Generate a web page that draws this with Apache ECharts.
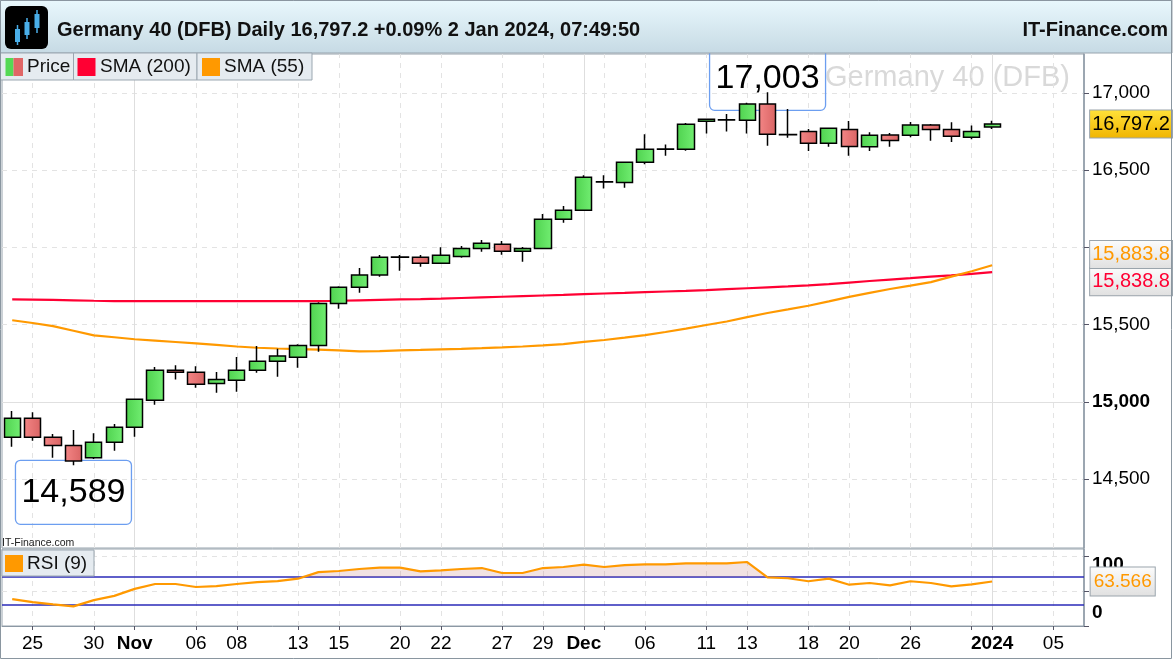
<!DOCTYPE html>
<html><head><meta charset="utf-8">
<script src="https://cdn.jsdelivr.net/npm/echarts@6/dist/echarts.min.js"></script>
<style>html,body{margin:0;padding:0;background:#fff}#c{width:1173px;height:660px}</style>
</head><body><div id="c"></div>
<script>
// ---------- DATA ----------
const dates = ['2023-10-24','2023-10-25','2023-10-26','2023-10-27','2023-10-30','2023-10-31',
'2023-11-01','2023-11-02','2023-11-03','2023-11-06','2023-11-07','2023-11-08','2023-11-09','2023-11-10','2023-11-13','2023-11-14','2023-11-15','2023-11-16','2023-11-17','2023-11-20','2023-11-21','2023-11-22','2023-11-23','2023-11-24','2023-11-27','2023-11-28','2023-11-29','2023-11-30',
'2023-12-01','2023-12-04','2023-12-05','2023-12-06','2023-12-07','2023-12-08','2023-12-11','2023-12-12','2023-12-13','2023-12-14','2023-12-15','2023-12-18','2023-12-19','2023-12-20','2023-12-21','2023-12-22','2023-12-26','2023-12-27','2023-12-28','2023-12-29',
'2024-01-02','2024-01-03','2024-01-04','2024-01-05','2024-01-08'];
const opens  = [14770,14893,14770,14718,14638,14738,14835,15010,15204,15191,15119,15139,15204,15262,15288,15365,15637,15741,15820,15935,15935,15896,15941,15993,16019,15974,15993,16181,16239,16422,16420,16550,16634,16634,16815,16824,16822,16927,16728,16750,16673,16763,16651,16727,16725,16791,16763,16712,16778];
const closes = [14893,14770,14718,14617,14738,14835,15016,15204,15191,15113,15145,15204,15262,15296,15365,15637,15741,15820,15935,15937,15896,15948,15993,16026,15974,15993,16181,16239,16453,16424,16550,16634,16636,16796,16828,16826,16927,16731,16730,16673,16770,16653,16725,16692,16791,16763,16718,16750,16797.2];
const lows   = [14709,14748,14638,14589,14630,14683,14774,14981,15145,15091,15059,15065,15188,15162,15220,15324,15602,15706,15809,15848,15874,15893,15932,15971,15952,15907,15987,16159,16235,16381,16385,16537,16593,16625,16737,16750,16737,16657,16709,16623,16651,16593,16623,16651,16712,16690,16681,16699,16765];
const highs  = [14940,14932,14791,14817,14796,14856,15020,15225,15236,15231,15193,15290,15361,15344,15372,15645,15748,15866,15950,15950,15950,16000,16008,16047,16040,16002,16215,16267,16466,16467,16555,16731,16666,16804,16830,16862,16936,17003,16895,16765,16776,16817,16744,16740,16811,16798,16809,16789,16819];
const sma200 = [15663,15662,15660,15657,15654,15652,15652,15652,15652,15652,15652,15652,15652,15652,15652,15652,15654,15657,15660,15663,15665,15668,15672,15676,15680,15684,15688,15692,15697,15701,15705,15710,15714,15718,15723,15729,15735,15741,15747,15754,15762,15772,15782,15791,15800,15810,15818,15828,15838.8];
const sma55  = [15528,15510,15490,15460,15430,15418,15405,15396,15387,15378,15368,15358,15350,15345,15341,15338,15333,15326,15328,15333,15336,15340,15343,15347,15352,15358,15365,15374,15388,15400,15415,15432,15452,15474,15497,15520,15548,15575,15598,15622,15650,15679,15705,15730,15752,15775,15810,15845,15883.8];
const rsi9   = [38.5,34.2,31,28,37,43,53,60,60,55.7,57,60,62.8,64,67.6,77,78.6,81.4,83.3,83.3,78,79.6,81.4,82.8,75.7,75.7,82.8,84.3,87.6,84.3,87,88,88,89.5,89.5,89.5,91.4,69.6,68.2,63.9,67.7,59,61.4,58,63.9,61.4,56.7,59.5,63.566];
const xTickDates  = ['2023-10-25','2023-10-30','2023-11-01','2023-11-06','2023-11-08','2023-11-13','2023-11-15','2023-11-20','2023-11-22','2023-11-27','2023-11-29','2023-12-01','2023-12-06','2023-12-11','2023-12-13','2023-12-18','2023-12-20','2023-12-26','2024-01-02','2024-01-05'];
const xTickLabels = ['25','30','Nov','06','08','13','15','20','22','27','29','Dec','06','11','13','18','20','26','2024','05'];
const monthStarts = ['2023-11-01','2023-12-01','2024-01-02'];
const xGridDates  = ['2023-10-25','2023-10-30','2023-11-06','2023-11-08','2023-11-13','2023-11-15','2023-11-20','2023-11-22','2023-11-27','2023-11-29','2023-12-04','2023-12-06','2023-12-11','2023-12-13','2023-12-18','2023-12-20','2023-12-26','2023-12-29','2024-01-05'];
const yTicks = [14500,15000,15500,16000,16500,17000];
const ySolid = [15000];
const rsiTicks = [0,50,100];
const rsiLevels = [70,30];
const highNote = {date:'2023-12-14', value:17003};
const lowNote  = {date:'2023-10-27', value:14589};

// ---------- HELPERS ----------
const FF = '"Liberation Sans", Arial, sans-serif';
function fmt(v, d){ const s = Number(v).toFixed(d); const p = s.split('.'); const i = p[0].replace(/\B(?=(\d{3})+(?!\d))/g, ','); return p[1] ? i + '.' + p[1] : i; }
const G = echarts.graphic.LinearGradient;
const greenGrad = new G(0,0,1,0,[{offset:0,color:'#4fd24f'},{offset:1,color:'#72ee72'}]);
const redGrad   = new G(0,0,1,0,[{offset:0,color:'#f48686'},{offset:1,color:'#d96464'}]);
const grayBox   = () => new G(0,0,0,1,[{offset:0,color:'#fcfcfc'},{offset:1,color:'#e0e0e0'}]);
const gridSet = new Set(xGridDates.concat(monthStarts));
const last = closes.length - 1;
const ohlc = opens.map((o,i)=>[o, closes[i], lows[i], highs[i]]);

const vLines = xGridDates.map(d => ({xAxis:d, lineStyle:{type:[5,5], color:'#e3e3e3', width:1}}))
  .concat(monthStarts.map(d => ({xAxis:d, lineStyle:{type:'solid', color:'#dedede', width:1}})));

const valueBox = (coordVal, text, color, bg, dy, dist) => ({
  coord:[dates[last], coordVal], value:coordVal,
  label:{show:true, position:'right', distance:dist, offset:[0,dy], formatter:text,
    color:color, fontSize:20, fontFamily:FF, backgroundColor:bg, borderColor:'#9aa4ac', borderWidth:1, padding:[4,2,3,2]}
});
const noteLabel = (dy) => ({show:true, position:'inside', offset:[0,dy], formatter:p=>fmt(p.value,0),
  color:'#000', fontSize:34, fontFamily:FF, borderColor:'#6c9ef0', borderWidth:1.3, borderRadius:5, padding:[15,6]});

// ---------- CHART ----------
const chart = echarts.init(document.getElementById('c'), null, {renderer:'canvas'});
const option = {
  animation:false,
  textStyle:{fontFamily:FF},
  grid:[
    {left:2, right:89, top:54, bottom:112, show:true, borderColor:'#98a4ae', borderWidth:1, backgroundColor:'#fff'},
    {left:2, right:89, top:549, bottom:34, show:true, borderColor:'#98a4ae', borderWidth:1, backgroundColor:'#fff'}
  ],
  xAxis:[
    {type:'category', data:dates, gridIndex:0, boundaryGap:true, axisLine:{show:false}, axisTick:{show:false}, axisLabel:{show:false}, splitLine:{show:false}},
    {type:'category', data:dates, gridIndex:1, boundaryGap:true,
      axisLine:{show:true, lineStyle:{color:'#8c98a4'}},
      axisTick:{show:true, alignWithLabel:true, length:4, interval:(i,v)=>gridSet.has(v), lineStyle:{color:'#556'}},
      axisLabel:{show:true, interval:(i,v)=>xTickDates.indexOf(v)>=0, margin:8, color:'#000', fontSize:19, fontFamily:FF,
        formatter:v=>{ const t = xTickLabels[xTickDates.indexOf(v)]; return monthStarts.indexOf(v)>=0 ? '{b|'+t+'}' : t; },
        rich:{b:{fontWeight:'bold', fontSize:19, color:'#000', fontFamily:FF}}},
      splitLine:{show:false}}
  ],
  yAxis:[
    {type:'value', gridIndex:0, position:'right', min:14054, max:17251,
      axisLine:{show:true, lineStyle:{color:'#8c98a4', width:1.5}},
      axisTick:{show:true, customValues:yTicks, length:5, lineStyle:{color:'#556'}},
      axisLabel:{show:true, customValues:yTicks, margin:8, color:'#000', fontSize:19, fontFamily:FF,
        formatter:v => ySolid.indexOf(v)>=0 ? '{b|'+fmt(v,0)+'}' : fmt(v,0),
        rich:{b:{fontWeight:'bold', fontSize:19, color:'#000', fontFamily:FF}}},
      splitLine:{show:true, lineStyle:{type:[5,5], color:'#e3e3e3'}}},
    {type:'value', gridIndex:1, position:'right', min:0, max:110,
      axisLine:{show:true, lineStyle:{color:'#8c98a4', width:1.5}},
      axisTick:{show:true, customValues:rsiTicks, length:5, lineStyle:{color:'#556'}},
      axisLabel:{show:true, customValues:rsiTicks, margin:8, color:'#000', fontSize:19, fontFamily:FF,
        formatter:v => v===100 ? '{t|100}' : (v===0 ? '{z|0}' : '{m|'+v+'}'),
        rich:{t:{fontWeight:'bold', fontSize:19, color:'#000', padding:[18,0,0,0]},
              z:{fontWeight:'bold', fontSize:19, color:'#000', padding:[0,0,26,0]},
              m:{fontSize:19, color:'#000'}}},
      splitLine:{show:true, lineStyle:{type:[5,5], color:'#e3e3e3'}}}
  ],
  series:[
    {name:'SMA (200)', type:'line', xAxisIndex:0, yAxisIndex:0, data:sma200, symbol:'none', clip:false,
      lineStyle:{color:'#ff0033', width:2.2}, z:2,
      markLine:{z:1, silent:true, symbol:'none', animation:false, label:{show:false},
        data: vLines.concat(ySolid.map(v => ({yAxis:v, lineStyle:{type:'solid', color:'#e0e0e0', width:1}})))},
      markPoint:{symbol:'circle', symbolSize:1, itemStyle:{color:'rgba(0,0,0,0)'}, silent:true,
        data:[valueBox(sma200[last], fmt(sma200[last],1), '#ff0033', grayBox(), 9.5, 97.5)]}
    },
    {name:'SMA (55)', type:'line', xAxisIndex:0, yAxisIndex:0, data:sma55, symbol:'none', clip:false,
      lineStyle:{color:'#ff9900', width:2.2}, z:2,
      markPoint:{symbol:'circle', symbolSize:1, itemStyle:{color:'rgba(0,0,0,0)'}, silent:true,
        data:[valueBox(sma55[last], fmt(sma55[last],1), '#ff9900', grayBox(), -10.7, 97.5)]}
    },
    {name:'Price', type:'candlestick', xAxisIndex:0, yAxisIndex:0, data:ohlc, barWidth:'82%', clip:false, z:3,
      itemStyle:{color:greenGrad, color0:redGrad, borderColor:'#000', borderColor0:'#000', borderColorDoji:'#000', borderWidth:1.5},
      markPoint:{z:1, symbol:'circle', symbolSize:1, itemStyle:{color:'rgba(0,0,0,0)'}, silent:true,
        data:[
          {coord:[highNote.date, highNote.value], value:highNote.value, label:noteLabel(-14)},
          {coord:[lowNote.date, lowNote.value], value:lowNote.value, label:noteLabel(27)},
          valueBox(closes[last], fmt(closes[last],1), '#000',
            new G(0,0,0,1,[{offset:0,color:'#ffe23a'},{offset:1,color:'#f0b400'}]), 0, 97.5)
        ]}
    },
    {name:'rsiBase', type:'line', xAxisIndex:1, yAxisIndex:1, stack:'ob', data:rsi9.map(()=>rsiLevels[0]),
      symbol:'none', lineStyle:{opacity:0}, silent:true, z:1},
    {name:'rsiOver', type:'line', xAxisIndex:1, yAxisIndex:1, stack:'ob', data:rsi9.map(v=>Math.max(v-rsiLevels[0],0)),
      symbol:'none', lineStyle:{opacity:0}, areaStyle:{color:'rgba(190,120,120,0.30)'}, silent:true, z:1},
    {name:'RSI (9)', type:'line', xAxisIndex:1, yAxisIndex:1, data:rsi9, symbol:'none', clip:false,
      lineStyle:{color:'#ff9900', width:2.2}, z:3,
      markLine:{z:1, silent:true, symbol:'none', animation:false, label:{show:false},
        data: vLines.concat(rsiLevels.map(v => ({yAxis:v, lineStyle:{type:'solid', color:'#2a2ab8', width:1.5}})))},
      markPoint:{symbol:'circle', symbolSize:1, itemStyle:{color:'rgba(0,0,0,0)'}, silent:true,
        data:[{coord:[dates[last], rsi9[last]], value:rsi9[last],
          label:{show:true, position:'right', distance:98, formatter:rsi9[last].toFixed(3), color:'#ff9900', fontSize:19, fontFamily:FF,
            backgroundColor:grayBox(), borderColor:'#9aa4ac', borderWidth:1, padding:[5,3,4,3]}}]}
    }
  ],
  graphic:[
    // header bar
    {type:'rect', z:100, shape:{x:0, y:0, width:1172, height:53},
      style:{fill:new G(0,0,0,1,[{offset:0,color:'#e9f8fd'},{offset:1,color:'#c6dae4'}]), stroke:'#98a4ae', lineWidth:1}},
    {type:'rect', z:101, shape:{x:5, y:6, width:43, height:43, r:6}, style:{fill:'#000'}},
    {type:'line', z:102, shape:{x1:17.5, y1:25, x2:17.5, y2:45}, style:{stroke:'#4aaee8', lineWidth:1.5}},
    {type:'rect', z:102, shape:{x:15, y:29, width:5, height:13}, style:{fill:'#4aaee8'}},
    {type:'line', z:102, shape:{x1:27, y1:18, x2:27, y2:39}, style:{stroke:'#4aaee8', lineWidth:1.5}},
    {type:'rect', z:102, shape:{x:24.5, y:22, width:5, height:13}, style:{fill:'#4aaee8'}},
    {type:'line', z:102, shape:{x1:37, y1:10, x2:37, y2:33}, style:{stroke:'#4aaee8', lineWidth:1.5}},
    {type:'rect', z:102, shape:{x:34.5, y:14, width:5, height:14}, style:{fill:'#4aaee8'}},
    {type:'text', z:102, x:57, y:30, style:{text:'Germany 40 (DFB) Daily 16,797.2 +0.09% 2 Jan 2024, 07:49:50',
      fontSize:20, fontWeight:'bold', fontFamily:FF, fill:'#111', verticalAlign:'middle'}},
    {type:'text', z:102, x:1168, y:30, style:{text:'IT-Finance.com', fontSize:20, fontWeight:'bold', fontFamily:FF, fill:'#111', align:'right', verticalAlign:'middle'}},
    // legend row
    {type:'rect', z:100, shape:{x:0.5, y:53, width:73, height:27}, style:{fill:'#e5ebf0', stroke:'#9ba7b1', lineWidth:1}},
    {type:'rect', z:100, shape:{x:73.5, y:53, width:123.5, height:27}, style:{fill:'#e5ebf0', stroke:'#9ba7b1', lineWidth:1}},
    {type:'rect', z:100, shape:{x:197, y:53, width:115, height:27}, style:{fill:'#e5ebf0', stroke:'#9ba7b1', lineWidth:1}},
    {type:'rect', z:101, shape:{x:5.5, y:58, width:8, height:18}, style:{fill:'#55d955'}},
    {type:'rect', z:101, shape:{x:13.5, y:58, width:9.5, height:18}, style:{fill:'#e06666'}},
    {type:'rect', z:101, shape:{x:77.5, y:58, width:18, height:18}, style:{fill:'#ff0033'}},
    {type:'rect', z:101, shape:{x:202, y:58, width:18, height:18}, style:{fill:'#ff9900'}},
    {type:'text', z:101, x:27, y:67, style:{text:'Price', fontSize:19, fontFamily:FF, fill:'#111', verticalAlign:'middle'}},
    {type:'text', z:101, x:100, y:67, style:{text:'SMA (200)', fontSize:19, fontFamily:FF, fill:'#111', verticalAlign:'middle'}},
    {type:'text', z:101, x:224, y:67, style:{text:'SMA (55)', fontSize:19, fontFamily:FF, fill:'#111', verticalAlign:'middle'}},
    // watermark
    {type:'text', z:0, x:825, y:78, style:{text:'Germany 40 (DFB)', fontSize:29, fontFamily:FF, fill:'#d9d9d9', verticalAlign:'middle'}},
    // small brand
    {type:'text', z:100, x:2, y:543, style:{text:'IT-Finance.com', fontSize:10.5, fontFamily:FF, fill:'#222', verticalAlign:'middle'}},
    // RSI legend
    {type:'rect', z:100, shape:{x:2, y:550, width:92, height:26}, style:{fill:'#e5ebf0', stroke:'#9ba7b1', lineWidth:1}},
    {type:'rect', z:101, shape:{x:5, y:555, width:18, height:17}, style:{fill:'#ff9900'}},
    {type:'text', z:101, x:27, y:563.5, style:{text:'RSI (9)', fontSize:19, fontFamily:FF, fill:'#111', verticalAlign:'middle'}},
    // outer frame
    {type:'rect', z:110, shape:{x:0.5, y:0.5, width:1171, height:658}, style:{fill:'none', stroke:'#8a96a0', lineWidth:1}}
  ]
};
chart.setOption(option);
</script>
</body></html>
